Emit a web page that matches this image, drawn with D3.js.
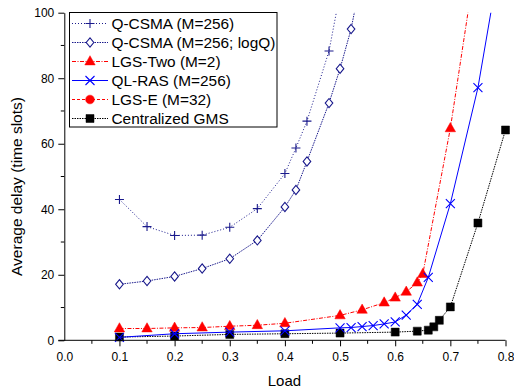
<!DOCTYPE html>
<html>
<head>
<meta charset="utf-8">
<script src="https://cdn.jsdelivr.net/npm/d3@7"></script>
<style>
  body { margin: 0; background: #fff; }
  text { font-family: "Liberation Sans", Arial, sans-serif; fill: #000; }
</style>
</head>
<body>
<div id="chart"></div>
<script>
// load values (x) and delays (y)
const qcsmaLoad = [0.1, 0.15, 0.2, 0.25, 0.3, 0.35, 0.4, 0.42, 0.44, 0.48, 0.5];
const qcsmaDelay = [43.0, 34.7, 32.0, 32.1, 34.5, 40.2, 50.9, 58.7, 66.9, 88.3, 106];

const logqLoad = [0.1, 0.15, 0.2, 0.25, 0.3, 0.35, 0.4, 0.42, 0.44, 0.48, 0.5, 0.52, 0.54];
const logqDelay = [17.1, 18.1, 19.5, 21.9, 24.9, 30.5, 40.7, 45.9, 54.6, 72.4, 82.9, 95.0, 112];

const lgsTwoLoad = [0.1, 0.15, 0.2, 0.25, 0.3, 0.35, 0.4, 0.5, 0.54, 0.58, 0.6, 0.62, 0.64, 0.65, 0.7, 0.75];
const lgsTwoDelay = [3.6, 3.6, 3.8, 3.9, 4.3, 4.6, 5.2, 7.6, 9.3, 11.5, 13.0, 14.8, 17.6, 20.2, 64.7, 120];

const qlrasLoad = [0.1, 0.2, 0.3, 0.4, 0.5, 0.52, 0.54, 0.56, 0.58, 0.6, 0.62, 0.64, 0.66, 0.7, 0.75, 0.8];
const qlrasDelay = [0.9, 2.0, 2.5, 2.9, 3.8, 3.9, 4.2, 4.5, 5.0, 5.6, 7.7, 11.0, 19.2, 41.7, 77.1, 126];

const lgsELoad = [];
const lgsEDelay = [];

const gmsLoad = [0.1, 0.2, 0.3, 0.4, 0.5, 0.6, 0.64, 0.66, 0.67, 0.68, 0.7, 0.75, 0.8];
const gmsDelay = [1.0, 1.3, 1.8, 2.0, 2.2, 2.5, 2.8, 3.1, 4.1, 6.1, 10.2, 35.8, 64.2];

const xTicks = [0, 0.1, 0.2, 0.3, 0.4, 0.5, 0.6, 0.7, 0.8];
const yTicks = [0, 20, 40, 60, 80, 100];

const width = 514, height = 388;
const plotLeft = 64.3, plotRight = 505.5, plotTop = 12.7, plotBottom = 340.3;

const svg = d3.select('#chart').append('svg')
  .attr('width', width)
  .attr('height', height);

const x = d3.scaleLinear().domain([0, 0.8]).range([plotLeft, plotRight]);
const y = d3.scaleLinear().domain([0, 100]).range([plotBottom, plotTop]);

// markers as small paths
const plusPath = 'M-4.5,0H4.5M0,-4.5V4.5';
const crossPath = 'M-4.5,-4.5L4.5,4.5M-4.5,4.5L4.5,-4.5';
const diamondPath = 'M0,-4.6L3.8,0L0,4.6L-3.8,0Z';
const trianglePath = 'M0,-5.8L5.2,3.4L-5.2,3.4Z';
const squarePath = 'M-4,-4H4V4H-4Z';
const circlePath = d3.symbol(d3.symbolCircle, 60)();

const series = [
  { name: 'Q-CSMA (M=256)', xs: qcsmaLoad, ys: qcsmaDelay, color: '#1a1a8c', dash: '1,2', marker: plusPath, fill: 'none' },
  { name: 'Q-CSMA (M=256; logQ)', xs: logqLoad, ys: logqDelay, color: '#1a1a8c', dash: '1.5,1', marker: diamondPath, fill: '#fff' },
  { name: 'LGS-Two (M=2)', xs: lgsTwoLoad, ys: lgsTwoDelay, color: '#ff0000', dash: '4,1.5,1,1.5', marker: trianglePath, fill: '#ff0000' },
  { name: 'QL-RAS (M=256)', xs: qlrasLoad, ys: qlrasDelay, color: '#0000ff', dash: null, marker: crossPath, fill: 'none' },
  { name: 'LGS-E (M=32)', xs: lgsELoad, ys: lgsEDelay, color: '#ff0000', dash: '3,2', marker: circlePath, fill: '#ff0000' },
  { name: 'Centralized GMS', xs: gmsLoad, ys: gmsDelay, color: '#000000', dash: '1.5,1', marker: squarePath, fill: '#000000' }
];

svg.append('clipPath').attr('id', 'plotclip')
  .append('rect')
  .attr('x', plotLeft - 8).attr('y', plotTop)
  .attr('width', width - plotLeft + 8).attr('height', plotBottom - plotTop + 10);

const plot = svg.append('g').attr('clip-path', 'url(#plotclip)');

const line = d3.line()
  .x(d => x(d[0]))
  .y(d => y(d[1]));

// draw order: bottom series first so the blue crosses sit over black squares
const drawOrder = [5, 4, 2, 3, 1, 0];
drawOrder.forEach(i => {
  const s = series[i];
  const pts = s.xs.map((v, j) => [v, s.ys[j]]);
  const g = plot.append('g');
  g.append('path')
    .datum(pts)
    .attr('d', line)
    .attr('fill', 'none')
    .attr('stroke', s.color)
    .attr('stroke-width', 1)
    .attr('stroke-dasharray', s.dash);
  g.selectAll('path.mk')
    .data(pts.filter(p => p[1] <= 100))
    .enter().append('path')
    .attr('class', 'mk')
    .attr('d', s.marker)
    .attr('transform', p => `translate(${x(p[0])},${y(p[1])})`)
    .attr('fill', s.fill)
    .attr('stroke', s.color)
    .attr('stroke-width', s.fill === '#fff' || s.fill === 'none' ? 1.1 : 0.5);
});

// axes
const xAxis = svg.append('g').attr('transform', `translate(0,${plotBottom})`);
xAxis.call(d3.axisBottom(x).tickValues(xTicks).tickFormat(d3.format('.1f')).tickSize(6).tickSizeOuter(0));
xAxis.selectAll('.tick').filter(d => d === 0).select('line').remove();
xAxis.selectAll('.tick text').attr('y', 12.5).attr('dy', '0.71em').style('font-size', '12px').style('font-family', '"Liberation Sans", Arial, sans-serif');
xAxis.select('.domain').attr('d', `M${plotLeft - 6},0H${plotRight}`);
xAxis.append('g').selectAll('line')
  .data(d3.range(0.05, 0.8, 0.1))
  .enter().append('line')
  .attr('x1', d => x(d)).attr('x2', d => x(d))
  .attr('y1', 0).attr('y2', 3.5)
  .attr('stroke', '#000');

const yAxis = svg.append('g').attr('transform', `translate(${plotLeft},0)`);
yAxis.call(d3.axisLeft(y).tickValues(yTicks).tickSize(6).tickSizeOuter(0));
yAxis.selectAll('.tick text').attr('x', -10).style('font-size', '12px').style('font-family', '"Liberation Sans", Arial, sans-serif');
yAxis.append('g').selectAll('line')
  .data([10, 30, 50, 70, 90])
  .enter().append('line')
  .attr('x1', 0).attr('x2', -3.5)
  .attr('y1', d => y(d)).attr('y2', d => y(d))
  .attr('stroke', '#000');

svg.selectAll('.domain, .tick line').attr('stroke', '#000');

// axis titles
svg.append('text')
  .attr('x', (plotLeft + plotRight) / 2 - 0.5)
  .attr('y', 386)
  .attr('text-anchor', 'middle')
  .style('font-size', '15px')
  .text('Load');

svg.append('text')
  .attr('transform', 'translate(22,186.5) rotate(-90)')
  .attr('text-anchor', 'middle')
  .style('font-size', '15.5px')
  .text('Average delay (time slots)');

// legend
const legend = svg.append('g');
legend.append('rect')
  .attr('x', 69.5).attr('y', 12.5)
  .attr('width', 207.5).attr('height', 114.5)
  .attr('fill', '#fff')
  .attr('stroke', '#000')
  .attr('stroke-width', 1);

series.forEach((s, i) => {
  const cy = 23.5 + i * 19;
  const row = legend.append('g');
  row.append('line')
    .attr('x1', 72).attr('x2', 108)
    .attr('y1', cy).attr('y2', cy)
    .attr('stroke', s.color)
    .attr('stroke-width', 1)
    .attr('stroke-dasharray', s.dash);
  row.append('path')
    .attr('d', s.marker)
    .attr('transform', `translate(90,${cy})`)
    .attr('fill', s.fill)
    .attr('stroke', s.color)
    .attr('stroke-width', s.fill === '#fff' || s.fill === 'none' ? 1.1 : 0.5);
  row.append('text')
    .attr('x', 111.5)
    .attr('y', cy)
    .attr('dy', '0.36em')
    .style('font-size', '15.4px')
    .text(s.name);
});
</script>
</body>
</html>
